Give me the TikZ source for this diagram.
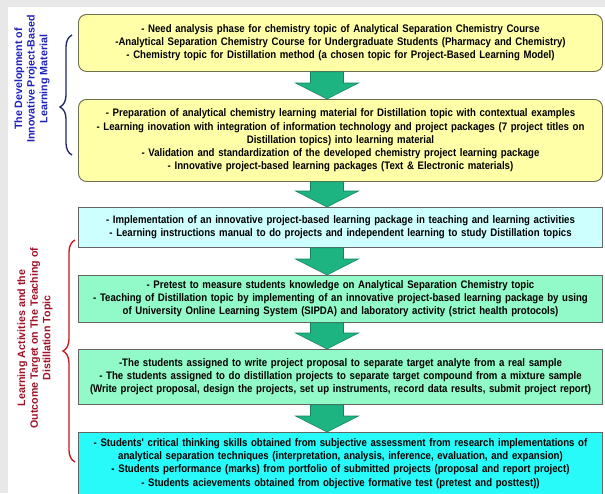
\documentclass[tikz,border=0pt]{standalone}
\usepackage{fontspec}
\setmainfont{Liberation Sans}
\newfontfamily\narrowfont{Liberation Sans}[FakeStretch=0.88]
\usetikzlibrary{calc,decorations.pathreplacing}
\definecolor{framegray}{RGB}{232,232,232}
\definecolor{paleyellow}{RGB}{255,255,168}
\definecolor{yellowedge}{RGB}{110,110,80}
\definecolor{palecyan}{RGB}{205,255,255}
\definecolor{mintgreen}{RGB}{145,250,200}
\definecolor{brightcyan}{RGB}{40,250,250}
\definecolor{boxedge}{RGB}{100,100,100}
\definecolor{arrowgreen}{RGB}{30,180,130}
\definecolor{arrowedge}{RGB}{20,130,95}
\definecolor{labelblue}{RGB}{30,35,190}
\definecolor{labelred}{RGB}{160,20,40}
\definecolor{bracered}{RGB}{200,20,30}
\definecolor{bracenavy}{RGB}{30,40,100}
\tikzset{
  flowbox/.style={draw=boxedge, line width=0.7pt, inner sep=0pt, anchor=north,
    minimum width=393pt, text width=390pt, align=center,
    font={\narrowfont\bfseries\fontsize{8.2}{9.9}\selectfont}},
  yellowbox/.style={flowbox, fill=paleyellow, draw=yellowedge, rounded corners=6pt},
  cyanbox/.style={flowbox, fill=palecyan},
  mintbox/.style={flowbox, fill=mintgreen},
  brightbox/.style={flowbox, fill=brightcyan},
  arrowbody/.style={fill=arrowgreen, draw=arrowedge, line width=0.4pt},
  sidelabel/.style={rotate=90, align=center, inner sep=0pt,
    font={\bfseries\fontsize{8}{9.4}\selectfont}},
  sidebrace/.style={line width=1pt, decorate, decoration={brace, amplitude=9pt}}
}
\newcommand{\flowarrow}[2]{\filldraw[arrowbody] ($(#1.south)+(-30,0)$) -- ($(#2.north)+(-30,-16)$) -- ($(#2.north)+(-45,-16)$) -- ($(#2.north)+(-13.5,0)$) -- ($(#2.north)+(18,-16)$) -- ($(#2.north)+(3,-16)$) -- ($(#1.south)+(3,0)$) -- cycle;}

\begin{document}
\begin{tikzpicture}[x=0.75pt, y=-0.75pt]
\useasboundingbox (0,0) rectangle (605,493);
\clip (0,0) rectangle (605,493);
\fill[framegray] (0,0) rectangle (605,493);
\fill[white] (8,7) rectangle (605,493);
\node[yellowbox, minimum height=42.75pt] (box1) at (340.5,14) {- Need analysis phase for chemistry topic of Analytical Separation Chemistry Course\\-Analytical Separation Chemistry Course for Undergraduate Students (Pharmacy and Chemistry)\\- Chemistry topic for Distillation method (a chosen topic for Project-Based Learning Model)};
\node[yellowbox, minimum height=61.5pt] (box2) at (340.5,99) {- Preparation of analytical chemistry learning material for Distillation topic with contextual examples\\- Learning inovation with integration of information technology and project packages (7 project titles on\\Distillation topics) into learning material\\- Validation and standardization of the developed chemistry project learning package\\- Innovative project-based learning packages (Text \& Electronic materials)};
\node[cyanbox, minimum height=30pt] (box3) at (340.5,207) {- Implementation of an innovative project-based learning package in teaching and learning activities\\- Learning instructions manual to do projects and independent learning to study Distillation topics};
\node[mintbox, minimum height=35.25pt] (box4) at (340.5,275) {- Pretest to measure students knowledge on Analytical Separation Chemistry topic\\- Teaching of Distillation topic by implementing of an innovative project-based learning package by using\\of University Online Learning System (SIPDA) and laboratory activity (strict health protocols)};
\node[mintbox, minimum height=41.25pt] (box5) at (340.5,349) {-The students assigned to write project proposal to separate target analyte from a real sample\\- The students assigned to do distillation projects to separate target compound from a mixture sample\\(Write project proposal, design the projects,  set up instruments, record data results, submit project report)};
\node[brightbox, minimum height=46.5pt] (box6) at (340.5,432) {- Students' critical thinking skills obtained from subjective assessment from research implementations of\\analytical separation techniques (interpretation, analysis, inference, evaluation, and expansion)\\- Students performance (marks)  from portfolio of submitted projects (proposal and report project)\\- Students acievements obtained from objective  formative test (pretest  and posttest))};
\flowarrow{box1}{box2}
\flowarrow{box2}{box3}
\flowarrow{box3}{box4}
\flowarrow{box4}{box5}
\flowarrow{box5}{box6}
\node[sidelabel, text=labelblue] (devlabel) at (32,79) {The Development of\\Innovative Project-Based\\Learning Material};
\node[sidelabel, text=labelred] (teachlabel) at (35,338) {Learning Activities  and the\\Outcome Target on The Teaching of\\Distillation Topic};
\draw[sidebrace, bracenavy, decoration={aspect=0.4}] (72,155) -- (72,35);
\draw[sidebrace, bracered] (75,462) -- (75,240);
\end{tikzpicture}
\end{document}
